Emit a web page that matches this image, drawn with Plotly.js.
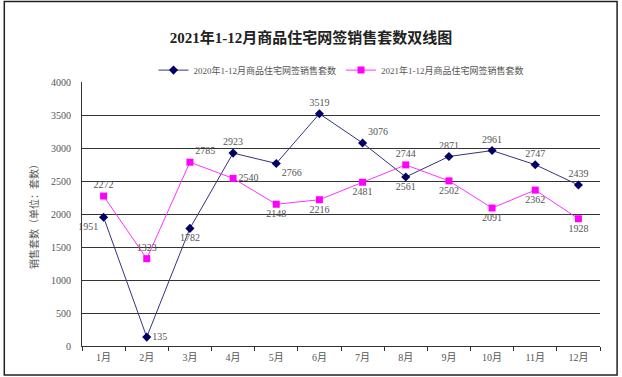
<!DOCTYPE html>
<html><head><meta charset="utf-8">
<script src="https://cdn.plot.ly/plotly-3.0.1.min.js"></script>
<style>body{margin:0;padding:0;background:#fff}#chart{width:622px;height:377px}</style>
</head><body><div id="chart"></div>
<script>
const months = ['1月','2月','3月','4月','5月','6月','7月','8月','9月','10月','11月','12月'];
const sales2020 = [1951,135,1782,2923,2766,3519,3076,2561,2871,2961,2747,2439];
const sales2021 = [2272,1323,2785,2540,2148,2216,2481,2744,2502,2091,2362,1928];
const name2020 = '2020年1-12月商品住宅网签销售套数';
const name2021 = '2021年1-12月商品住宅网签销售套数';
const pos2020 = ['bottom left','middle right','bottom center','top center','bottom right','top center','top right','bottom center','top center','top center','top center','top center'];
const pos2021 = ['top center','top center','top right','middle right','bottom center','bottom center','bottom center','top center','bottom center','bottom center','bottom center','bottom center'];

const F = 'Liberation Serif, "Noto Sans CJK SC", serif';
const traces = [
  {x: months, y: sales2020, name: name2020, type:'scatter', mode:'lines+markers+text',
   line:{color:'#333380', width:1}, marker:{symbol:'diamond', size:7, color:'#000066'},
   text: sales2020.map(String), textposition: pos2020, textfont:{family:F, size:10, color:'#555'}, cliponaxis:false},
  {x: months, y: sales2021, name: name2021, type:'scatter', mode:'lines+markers+text',
   line:{color:'#FF33FF', width:1}, marker:{symbol:'square', size:7, color:'#FF00FF'},
   text: sales2021.map(String), textposition: pos2021, textfont:{family:F, size:10, color:'#555'}, cliponaxis:false}
];
const layout = {
  width:622, height:377,
  margin:{l:82, r:22, t:82, b:31},
  paper_bgcolor:'#fff', plot_bgcolor:'#fff',
  font:{family:F, size:10, color:'#555'},
  title:{text:'<b>2021年1-12月商品住宅网签销售套数双线图</b>', x:0.5, xanchor:'center', y:0.9, yanchor:'middle', font:{family:F, size:15, color:'#222'}},
  showlegend:true,
  legend:{orientation:'h', x:0.5, xanchor:'center', y:1.045, yanchor:'middle', font:{family:F, size:9, color:'#555'}, itemwidth:30, tracegroupgap:0},
  xaxis:{type:'category', range:[-0.5, 11.5], showline:true, linecolor:'#333', linewidth:1, ticks:'outside', ticklen:4, tickcolor:'#333', tickson:'boundaries', showgrid:false, tickfont:{family:F, size:10, color:'#555'}, ticklabelstandoff:2},
  yaxis:{range:[0,4000], dtick:500, showline:true, linecolor:'#333', linewidth:1, showgrid:true, gridcolor:'#333', gridwidth:1, zeroline:false, tickfont:{family:F, size:10, color:'#555'}, ticks:'', ticklabelstandoff:8,
    title:{text:'销售套数（单位：套数）', font:{family:F, size:10, color:'#555'}, standoff:10}},
  shapes:[{type:'rect', xref:'paper', yref:'paper', x0:-0.150, x1:1.033, y0:-0.110, y1:1.305, line:{color:'#222', width:1.5}, fillcolor:'rgba(0,0,0,0)'}]
};
Plotly.newPlot('chart', traces, layout, {displayModeBar:false, staticPlot:true});
</script></body></html>
